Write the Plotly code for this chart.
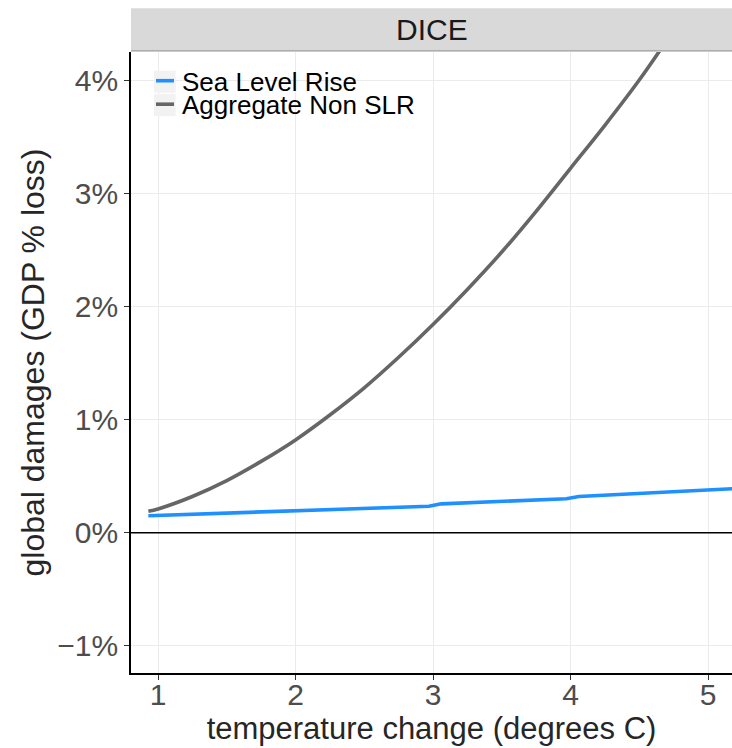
import plotly.graph_objects as go

# Data (values in % of GDP)
temp_nonslr = [0.93, 1.0, 1.25, 1.5, 1.75, 2.0, 2.25, 2.5, 2.75, 3.0, 3.25, 3.5, 3.75, 4.0, 4.25, 4.5, 4.75]
dmg_nonslr = [0.19, 0.21, 0.32, 0.46, 0.63, 0.82, 1.04, 1.28, 1.55, 1.84, 2.15, 2.48, 2.84, 3.22, 3.60, 4.00, 4.44]

temp_slr = [0.93, 2.0, 2.97, 3.06, 3.97, 4.06, 5.2]
dmg_slr = [0.15, 0.19, 0.233, 0.255, 0.30, 0.32, 0.39]

x_ticks = [1, 2, 3, 4, 5]
y_ticks = [-1, 0, 1, 2, 3, 4]
y_ticklabels = ["\u22121%", "0%", "1%", "2%", "3%", "4%"]

series_names = ["Sea Level Rise", "Aggregate Non SLR"]
series_colors = ["#1E90FF", "#666666"]
facet_label = "DICE"

FONT = "Liberation Sans, Arial, Helvetica, sans-serif"

fig = go.Figure()
fig.add_trace(go.Scatter(x=temp_slr, y=dmg_slr, mode="lines", name=series_names[0],
                         line=dict(color=series_colors[0], width=3.6), showlegend=False))
fig.add_trace(go.Scatter(x=temp_nonslr, y=dmg_nonslr, mode="lines", name=series_names[1],
                         line=dict(color=series_colors[1], width=3.6, shape="spline"), showlegend=False))

W, H = 732, 748
ml, mr, mt, mb = 131, 0, 52, 75
pw, ph = W - ml - mr, H - mt - mb

def px_x(p):
    return (p - ml) / pw

def px_y(p):
    return 1 - (p - mt) / ph

shapes = []
# facet strip
shapes.append(dict(type="rect", xref="paper", yref="paper", x0=0, x1=1,
                   y0=px_y(50.7), y1=px_y(8.3), fillcolor="#D9D9D9", line=dict(width=0), layer="above"))
shapes.append(dict(type="line", xref="paper", yref="paper", x0=0, x1=1,
                   y0=px_y(50.8), y1=px_y(50.8), line=dict(color="#9A9A9A", width=1.2)))
# zero line
shapes.append(dict(type="line", xref="paper", yref="y", x0=0, x1=1, y0=0, y1=0,
                   line=dict(color="black", width=1.5), layer="above"))

annotations = [dict(text=facet_label, xref="paper", yref="paper", x=0.5, y=px_y(29.5),
                    xanchor="center", yanchor="middle", showarrow=False,
                    font=dict(family=FONT, size=30, color="#1A1A1A"))]

# legend (manual, ggplot-style keys)
key_rows = [81.7, 105.2]
for name, color, yc in zip(series_names, series_colors, key_rows):
    shapes.append(dict(type="rect", xref="paper", yref="paper", x0=px_x(154), x1=px_x(175.7),
                       y0=px_y(yc + 11), y1=px_y(yc - 11), fillcolor="#F2F2F2", line=dict(width=0)))
    shapes.append(dict(type="line", xref="paper", yref="paper", x0=px_x(156), x1=px_x(174),
                       y0=px_y(yc - 1), y1=px_y(yc - 1), line=dict(color=color, width=3.6)))
    annotations.append(dict(text=name, xref="paper", yref="paper", x=px_x(180), y=px_y(yc),
                            xanchor="left", yanchor="middle", showarrow=False,
                            font=dict(family=FONT, size=26, color="black")))

fig.update_layout(
    width=W, height=H,
    margin=dict(l=ml, r=mr, t=mt, b=mb, pad=0),
    paper_bgcolor="white", plot_bgcolor="white",
    font=dict(family=FONT, color="#4D4D4D"),
    shapes=shapes, annotations=annotations,
    showlegend=False,
)
fig.update_xaxes(
    range=[0.8036, 5.1745], tickvals=x_ticks, ticktext=[str(v) for v in x_ticks],
    showgrid=True, gridcolor="#EBEBEB", gridwidth=1.4, zeroline=False,
    showline=True, linecolor="black", linewidth=1.6,
    ticks="outside", ticklen=5, tickcolor="#333333", tickwidth=1.2,
    ticklabelstandoff=-11,
    tickfont=dict(family=FONT, size=30, color="#4D4D4D"),
    title=dict(text="temperature change (degrees C)", standoff=4,
               font=dict(family=FONT, size=31, color="#262626")),
)
fig.update_yaxes(
    range=[-1.240, 4.248], tickvals=y_ticks, ticktext=y_ticklabels,
    showgrid=True, gridcolor="#EBEBEB", gridwidth=1.4, zeroline=False,
    showline=True, linecolor="black", linewidth=1.6,
    ticks="outside", ticklen=5, tickcolor="#333333", tickwidth=1.2,
    tickfont=dict(family=FONT, size=30, color="#4D4D4D"),
    title=dict(text="global damages (GDP % loss)", standoff=3,
               font=dict(family=FONT, size=32, color="#262626")),
)

fig.write_html("out.html", config={"displayModeBar": False},
               post_script="document.body.style.margin='0';")
